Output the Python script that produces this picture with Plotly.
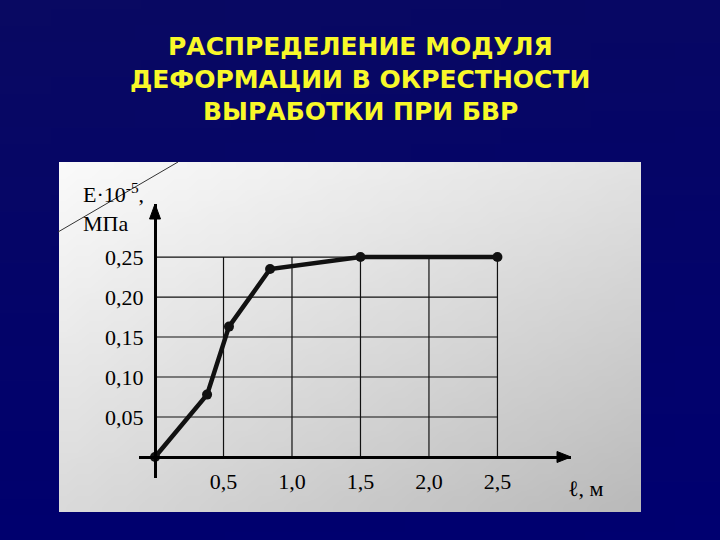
import base64
import struct
import zlib

import plotly.graph_objects as go

# ---- data ----
title_lines = ["РАСПРЕДЕЛЕНИЕ МОДУЛЯ", "ДЕФОРМАЦИИ В ОКРЕСТНОСТИ", "ВЫРАБОТКИ ПРИ БВР"]
distance_m = [0.0, 0.38, 0.54, 0.84, 1.5, 2.5]
modulus_e = [0.0, 0.078, 0.163, 0.235, 0.25, 0.25]
x_ticks = [0.5, 1.0, 1.5, 2.0, 2.5]
x_tick_text = ["0,5", "1,0", "1,5", "2,0", "2,5"]
y_ticks = [0.05, 0.10, 0.15, 0.20, 0.25]
y_tick_text = ["0,05", "0,10", "0,15", "0,20", "0,25"]
y_title = ["E·10<sup>-5</sup>,", "МПа"]
x_title = "ℓ, м"

W, H = 720, 540


def png_uri(w, h, fn):
    rows = []
    for j in range(h):
        row = bytearray(b"\x00")
        for i in range(w):
            row.extend(fn(i / (w - 1), j / (h - 1)))
        rows.append(bytes(row))
    raw = b"".join(rows)

    def chunk(t, d):
        return struct.pack(">I", len(d)) + t + d + struct.pack(">I", zlib.crc32(t + d) & 0xFFFFFFFF)

    png = (b"\x89PNG\r\n\x1a\n"
           + chunk(b"IHDR", struct.pack(">IIBBBBB", w, h, 8, 2, 0, 0, 0))
           + chunk(b"IDAT", zlib.compress(raw))
           + chunk(b"IEND", b""))
    return "data:image/png;base64," + base64.b64encode(png).decode()


def bilinear(tl, tr, bl, br):
    def f(u, v):
        return [int(round((tl[k] * (1 - u) + tr[k] * u) * (1 - v) + (bl[k] * (1 - u) + br[k] * u) * v))
                for k in range(3)]
    return f


bg_uri = png_uri(8, 32, bilinear((9, 9, 98), (7, 7, 100), (0, 0, 110), (0, 0, 112)))
panel_uri = png_uri(48, 32, bilinear((250, 250, 250), (226, 226, 226), (218, 218, 218), (186, 186, 186)))

fig = go.Figure()
fig.add_trace(go.Scatter(
    x=distance_m, y=modulus_e, mode="lines+markers",
    line=dict(color="#111111", width=4.5),
    marker=dict(color="#111111", size=10),
    hoverinfo="skip",
))

x_range = [-0.117, 3.037]
y_range = [-0.02625, 0.3163]

# grid drawn only inside the data box
shapes = []
for xv in x_ticks:
    shapes.append(dict(type="line", xref="x", yref="y", x0=xv, x1=xv, y0=0, y1=y_ticks[-1],
                       line=dict(color="#111111", width=1.2), layer="below"))
for yv in y_ticks:
    shapes.append(dict(type="line", xref="x", yref="y", x0=0, x1=x_ticks[-1], y0=yv, y1=yv,
                       line=dict(color="#111111", width=1.2), layer="below"))
# axis arrowheads (pixel-sized triangles anchored at the axis ends)
shapes.append(dict(type="path", xref="x", yref="y", xsizemode="pixel", ysizemode="pixel",
                   xanchor=0, yanchor=y_range[1], path="M 0 0 L -5.5 -15 L 5.5 -15 Z",
                   fillcolor="#000000", line=dict(color="#000000", width=1)))
shapes.append(dict(type="path", xref="x", yref="y", xsizemode="pixel", ysizemode="pixel",
                   xanchor=x_range[1], yanchor=0, path="M 0 0 L -14 5.5 L -14 -5.5 Z",
                   fillcolor="#000000", line=dict(color="#000000", width=1)))
# decorative diagonal stroke at the panel corner
shapes.append(dict(type="line", xref="paper", yref="paper",
                   x0=58 / W, y0=1 - 232 / H, x1=178 / W, y1=1 - 162 / H,
                   line=dict(color="#333333", width=1)))

annotations = []
for i, line in enumerate(title_lines):
    annotations.append(dict(text="<b>" + line + "</b>", xref="paper", yref="paper",
                            x=0.5, y=1 - (47 + 32.5 * i) / H, showarrow=False,
                            xanchor="center", yanchor="middle",
                            font=dict(family="DejaVu Sans", size=25, color="#f8f82a")))
# axis titles
annotations.append(dict(text=y_title[0], xref="paper", yref="paper", x=81 / W, y=1 - 193 / H,
                        xanchor="left", yanchor="middle", showarrow=False,
                        font=dict(family="Liberation Serif", size=22, color="#000000")))
annotations.append(dict(text=y_title[1], xref="paper", yref="paper", x=81 / W, y=1 - 223 / H,
                        xanchor="left", yanchor="middle", showarrow=False,
                        font=dict(family="Liberation Serif", size=22, color="#000000")))
annotations.append(dict(text=x_title, xref="paper", yref="paper", x=586 / W, y=1 - 488 / H,
                        xanchor="center", yanchor="middle", showarrow=False,
                        font=dict(family="Liberation Serif", size=22, color="#000000")))

images = [
    dict(source=bg_uri, xref="paper", yref="paper", x=0, y=1, sizex=1, sizey=1,
         sizing="stretch", xanchor="left", yanchor="top", layer="below"),
    dict(source=panel_uri, xref="paper", yref="paper", x=59 / W, y=1 - 162 / H,
         sizex=582 / W, sizey=350 / H, sizing="stretch", xanchor="left", yanchor="top", layer="below"),
]

tick_font = dict(family="Liberation Serif", size=22, color="#000000")

fig.update_layout(
    width=W, height=H,
    margin=dict(l=0, r=0, t=0, b=0),
    paper_bgcolor="#04046a",
    plot_bgcolor="rgba(0,0,0,0)",
    showlegend=False,
    shapes=shapes,
    annotations=annotations,
    images=images,
    xaxis=dict(domain=[139 / W, 571 / W], range=x_range, anchor="free", position=1 - 457 / H,
               showline=True, linewidth=3, linecolor="#000000", showgrid=False, zeroline=False,
               tickmode="array", tickvals=x_ticks, ticktext=x_tick_text, ticks="",
               ticklabelstandoff=4, tickfont=tick_font, fixedrange=True),
    yaxis=dict(domain=[1 - 478 / H, 1 - 204 / H], range=y_range, anchor="free", position=155 / W,
               showline=True, linewidth=3, linecolor="#000000", showgrid=False, zeroline=False,
               tickmode="array", tickvals=y_ticks, ticktext=y_tick_text, ticks="",
               ticklabelstandoff=6, tickfont=tick_font, fixedrange=True),
)

fig.write_html("out.html", config={"displayModeBar": False},
               post_script="document.body.style.margin='0';document.body.style.padding='0';")
